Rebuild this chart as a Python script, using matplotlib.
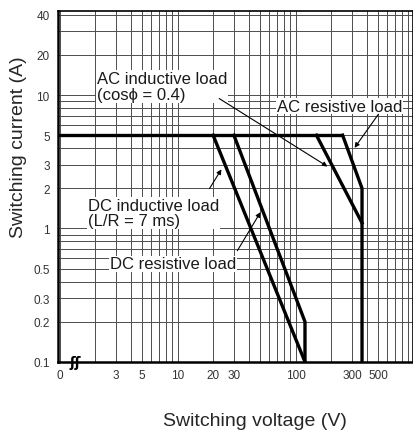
import matplotlib.pyplot as plt
from matplotlib.ticker import FixedLocator, NullFormatter, LogLocator

plt.rcParams['font.family'] = ['Liberation Sans', 'DejaVu Sans']

# curve data (voltage V, current A)
rated_v = [0.97, 250]
rated_i = [5, 5]

dc_ind_v = [20, 120]
dc_ind_i = [5, 0.1]

dc_res_v = [30, 120, 120]
dc_res_i = [5, 0.2, 0.1]

ac_ind_v = [150, 365]
ac_ind_i = [5, 1.1]

ac_res_v = [250, 365, 365]
ac_res_i = [5, 2, 0.1]

x_ticks = [1, 3, 5, 10, 20, 30, 100, 300, 500]
x_labels = ['0', '3', '5', '10', '20', '30', '100', '300', '500']
y_ticks = [0.1, 0.2, 0.3, 0.5, 1, 2, 3, 5, 10, 20, 40]
y_labels = ['0.1', '0.2', '0.3', '0.5', '1', '2', '3', '5', '10', '20', '40']

fig = plt.figure(figsize=(4.14, 4.31), dpi=100)
ax = fig.add_axes([0.140, 0.158, 0.858, 0.814])

ax.set_xscale('log')
ax.set_yscale('log')
ax.set_xlim(0.97, 990)
ax.set_ylim(0.1, 42.6)

# dense log grid like the scanned chart paper
ax.xaxis.set_minor_locator(LogLocator(base=10, subs=range(2, 10)))
ax.yaxis.set_minor_locator(LogLocator(base=10, subs=range(2, 10)))
ax.xaxis.set_minor_formatter(NullFormatter())
ax.yaxis.set_minor_formatter(NullFormatter())
ax.grid(True, which='both', color='0.3', linewidth=0.7)
ax.set_axisbelow(True)

ax.xaxis.set_major_locator(FixedLocator(x_ticks))
ax.set_xticklabels(x_labels)
ax.yaxis.set_major_locator(FixedLocator(y_ticks))
ax.set_yticklabels(y_labels)
ax.tick_params(which='both', length=0, labelsize=8.5, labelcolor='0.2')
ax.tick_params(axis='x', pad=5)
ax.tick_params(axis='y', pad=6)
for lab in ax.get_xticklabels() + ax.get_yticklabels():
    lab.set_family(['Liberation Sans Narrow', 'Liberation Sans'])

for s in ['left', 'bottom']:
    ax.spines[s].set_linewidth(1.8)
for s in ['top', 'right']:
    ax.spines[s].set_linewidth(1.2)

lw = 2.4
ax.plot(rated_v, rated_i, 'k-', linewidth=lw, solid_capstyle='butt')
ax.plot(dc_ind_v, dc_ind_i, 'k-', linewidth=lw)
ax.plot(dc_res_v, dc_res_i, 'k-', linewidth=lw)
ax.plot(ac_ind_v, ac_ind_i, 'k-', linewidth=lw)
ax.plot(ac_res_v, ac_res_i, 'k-', linewidth=lw)

# axis break mark
ax.text(1.36, 0.1, 'ʃʃ', fontsize=10, fontweight='bold', ha='center', va='center',
        family='DejaVu Sans')

tk = dict(fontsize=12, color='0.1', ha='left', va='center',
          bbox=dict(facecolor='white', edgecolor='none', pad=0.5))
arr = dict(arrowstyle='-|>', color='k', lw=0.8, mutation_scale=7)

ax.text(2.07, 11.6, 'AC inductive load\n(cosϕ = 0.4)', linespacing=1.12, **tk)
ax.annotate('', xy=(195, 2.84), xytext=(21.5, 9.66), arrowprops=arr)

ax.text(69.4, 8.27, 'AC resistive load', **tk)
ax.annotate('', xy=(306, 3.87), xytext=(518, 7.46), arrowprops=arr)

ax.text(1.74, 1.31, 'DC inductive load\n(L/R = 7 ms)', linespacing=1.05, **tk)
ax.annotate('', xy=(24.2, 2.89), xytext=(18.1, 1.91), arrowprops=arr)

ax.text(2.67, 0.542, 'DC resistive load', **tk)
ax.annotate('', xy=(51.8, 1.38), xytext=(31.2, 0.654), arrowprops=arr)

ax.set_ylabel('Switching current (A)', fontsize=14, color='0.15')
ax.yaxis.set_label_coords(-0.088, 0.615)
ax.set_xlabel('Switching voltage (V)', fontsize=14, color='0.15')
ax.xaxis.set_label_coords(0.555, -0.143)

fig.savefig('out.png', dpi=100)
